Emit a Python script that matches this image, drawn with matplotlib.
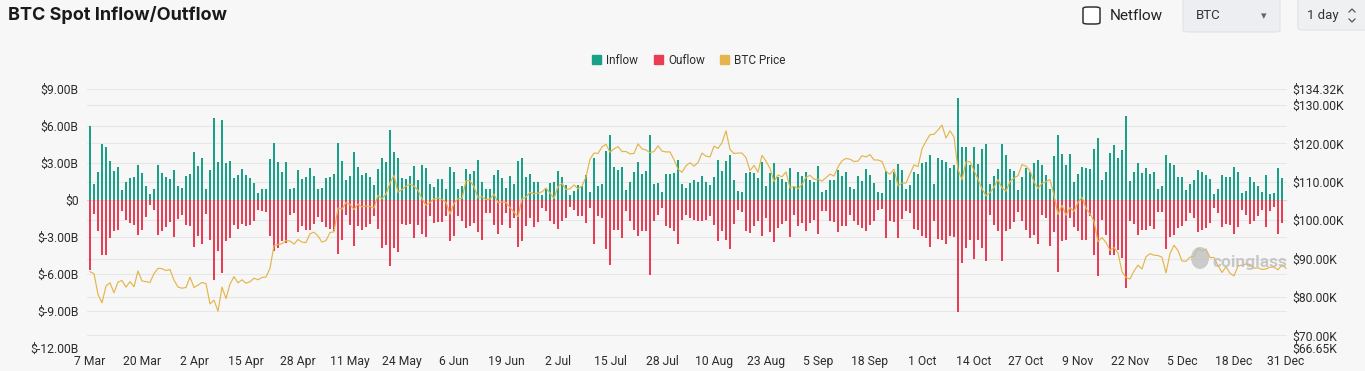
import numpy as np
import pandas as pd
import matplotlib
matplotlib.use("Agg")
import matplotlib.pyplot as plt
from matplotlib.patches import Patch, FancyBboxPatch, Ellipse
from matplotlib.lines import Line2D
from matplotlib.transforms import blended_transform_factory

# ---------------- data ----------------
start_date = "2025-03-07"
end_date = "2025-12-31"

inflow = [
    5.98, 1.29, 2.25, 4.48, 4.29, 3.14, 2.33, 2.65, 0.80, 1.42,
    1.74, 1.82, 2.79, 2.20, 1.13, 0.46, 0.86, 2.84, 2.14, 1.85,
    1.66, 2.39, 1.10, 0.94, 1.93, 2.06, 3.89, 2.73, 3.35, 0.86,
    2.44, 6.60, 3.03, 6.46, 3.00, 3.11, 1.74, 2.01, 2.52, 1.98,
    1.79, 1.34, 0.54, 0.86, 0.86, 3.32, 4.62, 3.03, 2.25, 3.03,
    0.86, 0.99, 2.44, 1.66, 1.85, 2.55, 1.93, 0.86, 0.99, 1.74,
    1.82, 2.09, 4.56, 3.11, 1.61, 1.96, 3.86, 2.65, 1.98, 2.14,
    1.85, 1.18, 2.47, 3.35, 3.08, 5.68, 3.89, 3.40, 1.74, 1.66,
    1.93, 2.73, 1.64, 2.79, 2.60, 1.26, 1.02, 1.69, 1.69, 0.86,
    2.65, 2.23, 0.86, 1.15, 2.52, 2.06, 2.33, 3.24, 1.42, 0.90,
    0.88, 2.00, 2.39, 1.80, 0.99, 1.93, 1.29, 3.11, 3.38, 1.85,
    2.12, 1.47, 1.47, 0.43, 0.94, 1.39, 1.42, 2.36, 1.82, 1.21,
    0.40, 0.72, 1.21, 1.15, 1.98, 0.62, 3.38, 1.13, 1.31, 3.97,
    5.23, 2.65, 2.41, 2.68, 0.83, 1.47, 2.28, 3.03, 2.06, 2.33,
    5.28, 1.29, 1.39, 0.62, 2.06, 2.06, 2.14, 3.22, 1.31, 0.94,
    1.39, 1.61, 1.42, 1.90, 1.47, 1.21, 1.85, 3.22, 2.33, 3.14,
    3.59, 1.61, 0.75, 0.67, 2.14, 2.28, 2.14, 1.74, 3.03, 1.15,
    2.20, 2.95, 1.82, 1.69, 1.42, 2.60, 1.15, 2.23, 1.90, 2.28,
    1.58, 1.47, 2.71, 0.67, 0.78, 1.64, 1.64, 2.39, 1.93, 2.23,
    1.05, 0.88, 1.96, 1.55, 2.47, 2.01, 1.34, 0.67, 0.54, 2.33,
    1.61, 2.23, 2.87, 2.39, 0.86, 1.21, 2.28, 2.12, 2.95, 3.03,
    3.62, 1.26, 3.35, 3.22, 3.08, 2.55, 2.82, 8.23, 4.29, 4.24,
    2.82, 4.29, 2.90, 4.08, 4.50, 1.31, 1.93, 2.47, 4.48, 3.62,
    2.47, 2.33, 0.80, 1.85, 2.55, 2.28, 2.95, 3.22, 2.82, 2.01,
    0.88, 3.54, 5.28, 3.73, 2.82, 3.67, 1.47, 2.06, 2.68, 2.60,
    2.49, 4.08, 4.96, 1.61, 2.28, 3.81, 4.42, 3.40, 4.02, 6.76,
    1.53, 2.28, 2.95, 2.20, 2.55, 2.06, 2.23, 0.86, 1.13, 3.62,
    2.98, 2.82, 1.82, 1.88, 0.80, 1.26, 1.61, 2.41, 2.23, 2.01,
    1.66, 0.48, 0.86, 2.01, 1.85, 1.85, 2.65, 2.23, 0.54, 0.75,
    1.88, 1.47, 1.13, 0.67, 2.01, 0.48, 0.56, 2.55, 1.80, np.nan,
]

outflow = [
    -5.68, -1.15, -2.55, -4.48, -4.42, -3.08, -2.49, -2.44, -0.94, -1.64,
    -1.88, -2.01, -2.82, -2.47, -1.39, -0.40, -0.83, -2.87, -2.49, -2.23,
    -1.82, -3.00, -1.53, -1.26, -2.06, -2.09, -3.83, -2.95, -3.57, -1.13,
    -3.22, -6.51, -4.16, -5.90, -3.30, -3.11, -2.01, -2.36, -1.96, -2.14,
    -2.01, -1.69, -0.80, -0.88, -1.02, -2.95, -4.16, -3.89, -3.30, -3.50,
    -1.21, -1.07, -2.63, -2.12, -2.47, -2.47, -1.96, -1.42, -1.80, -2.23,
    -2.39, -2.55, -4.37, -3.22, -1.26, -2.01, -3.75, -2.14, -2.44, -2.23,
    -1.96, -1.34, -2.33, -3.89, -3.62, -5.36, -3.89, -4.21, -1.96, -2.01,
    -1.96, -3.08, -2.01, -2.76, -3.03, -1.29, -1.90, -1.82, -1.82, -1.34,
    -3.35, -2.95, -1.34, -1.74, -2.28, -2.14, -1.88, -2.60, -3.22, -1.10,
    -1.07, -2.01, -2.76, -2.01, -1.07, -2.28, -1.47, -3.81, -3.35, -2.14,
    -1.47, -2.20, -1.80, -0.62, -0.88, -1.69, -1.96, -2.33, -1.74, -1.47,
    -0.54, -0.80, -1.34, -1.34, -1.88, -0.62, -3.57, -1.34, -1.47, -3.97,
    -5.28, -2.47, -2.47, -3.08, -0.94, -1.74, -2.47, -2.95, -2.49, -2.55,
    -6.08, -1.74, -1.26, -0.67, -2.14, -2.28, -2.49, -3.57, -1.61, -1.20,
    -1.47, -1.61, -1.74, -1.69, -1.61, -1.34, -2.01, -3.35, -2.55, -3.22,
    -3.97, -1.96, -0.80, -0.99, -2.55, -2.68, -2.14, -1.74, -2.95, -1.47,
    -2.60, -3.40, -2.28, -1.96, -1.74, -2.98, -1.21, -2.14, -1.88, -2.49,
    -1.88, -1.61, -2.76, -0.88, -0.88, -1.74, -1.80, -2.60, -2.14, -2.14,
    -1.21, -1.74, -2.01, -2.28, -2.55, -2.06, -1.74, -0.80, -0.72, -3.08,
    -1.74, -1.80, -3.08, -1.55, -0.88, -1.07, -2.36, -2.41, -2.95, -3.08,
    -3.81, -1.69, -3.14, -3.27, -3.57, -2.95, -3.03, -9.06, -5.09, -3.89,
    -3.22, -4.75, -3.22, -3.89, -4.91, -1.21, -2.00, -2.50, -4.96, -2.55,
    -2.33, -1.80, -1.00, -1.69, -2.41, -3.08, -2.82, -3.57, -1.20, -1.47,
    -3.75, -2.60, -5.82, -3.35, -3.22, -1.47, -2.20, -2.55, -3.22, -3.22,
    -1.34, -4.42, -6.14, -1.61, -2.87, -4.48, -4.48, -4.08, -4.69, -7.10,
    -1.69, -1.96, -2.82, -2.41, -2.47, -2.14, -2.33, -1.02, -0.99, -3.97,
    -3.03, -2.87, -2.28, -2.14, -1.74, -1.07, -1.47, -2.60, -2.41, -2.28,
    -1.88, -0.62, -1.07, -2.22, -1.96, -2.01, -2.73, -2.22, -0.80, -1.21,
    -1.96, -1.74, -1.34, -0.80, -2.20, -0.88, -0.59, -2.76, -1.88, np.nan,
]

btc_price = [
    86.6, 86.1, 80.7, 78.5, 82.9, 83.7, 81.1, 83.9, 84.3, 82.6,
    84.0, 82.7, 86.8, 84.2, 84.0, 83.8, 86.1, 87.5, 87.4, 86.9,
    87.2, 84.4, 82.6, 82.3, 82.5, 85.2, 82.5, 83.1, 83.8, 83.5,
    78.2, 79.2, 76.3, 82.6, 79.6, 83.4, 85.3, 83.7, 84.5, 83.6,
    84.0, 84.9, 84.5, 85.1, 85.2, 87.5, 93.4, 93.7, 93.9, 94.7,
    94.6, 93.8, 95.0, 94.3, 94.2, 96.5, 96.9, 95.9, 94.3, 94.7,
    96.8, 97.0, 103.2, 102.9, 104.6, 104.1, 102.8, 104.2, 103.5, 103.7,
    103.6, 103.2, 106.5, 105.6, 106.8, 109.7, 111.7, 107.3, 108.0, 108.9,
    109.4, 108.9, 107.8, 105.6, 103.9, 104.6, 105.6, 105.8, 105.4, 104.7,
    101.6, 104.4, 105.6, 105.7, 110.3, 110.3, 108.7, 105.9, 106.1, 105.4,
    105.5, 106.8, 104.6, 104.8, 104.6, 103.3, 102.1, 100.9, 105.6, 106.0,
    107.3, 106.9, 107.1, 107.4, 108.4, 107.1, 105.7, 108.8, 109.6, 108.0,
    108.2, 109.2, 108.2, 108.9, 111.3, 115.9, 117.5, 117.4, 119.1, 119.8,
    117.7, 118.6, 119.2, 117.9, 117.9, 117.3, 117.4, 119.9, 118.6, 118.3,
    117.6, 117.9, 119.4, 118.0, 117.8, 117.8, 115.8, 113.3, 112.5, 114.2,
    115.0, 114.1, 115.0, 117.5, 116.7, 116.5, 119.3, 118.7, 120.2, 123.3,
    118.4, 117.4, 117.5, 117.5, 116.3, 112.9, 114.3, 112.5, 116.9, 115.4,
    113.5, 110.1, 111.8, 111.3, 112.6, 108.4, 108.8, 108.2, 109.3, 111.2,
    111.7, 110.7, 110.7, 110.2, 111.1, 112.0, 111.5, 113.9, 115.5, 116.1,
    115.9, 115.3, 115.4, 116.8, 116.5, 117.1, 115.7, 115.7, 115.3, 112.7,
    112.0, 113.3, 109.0, 109.7, 109.7, 112.1, 114.4, 114.0, 118.6, 120.6,
    122.3, 122.4, 123.5, 124.8, 121.4, 123.3, 121.7, 113.2, 110.6, 115.2,
    115.3, 113.0, 110.7, 108.2, 106.4, 107.2, 108.6, 110.6, 108.4, 107.6,
    110.1, 111.0, 111.6, 114.5, 114.1, 112.9, 110.0, 108.3, 109.6, 110.1,
    110.6, 106.5, 101.5, 103.9, 101.3, 103.3, 102.3, 104.7, 106.0, 103.1,
    101.7, 99.7, 94.4, 95.5, 94.2, 92.2, 92.9, 91.5, 86.6, 85.1,
    84.7, 86.8, 88.3, 87.3, 90.5, 91.3, 90.9, 90.8, 90.4, 86.3,
    91.3, 93.5, 92.1, 89.4, 89.3, 90.4, 90.6, 92.7, 92.0, 92.5,
    90.3, 90.3, 88.2, 86.4, 87.9, 86.2, 85.5, 88.1, 88.3, 88.6,
    88.5, 87.5, 87.6, 87.2, 87.3, 87.8, 87.8, 87.1, 88.4, 87.5,
]

left_ticks = [-12, -9, -6, -3, 0, 3, 6, 9]
right_ticks = [66.65, 70, 80, 90, 100, 110, 120, 130, 134.32]
legend_labels = ["Inflow", "Ouflow", "BTC Price"]

# ---------------- style ----------------
BG = "#f7f7f7"
C_IN = "#18a186"
C_OUT = "#e93d56"
C_PRICE = "#e4b54c"
GRID = "#e7e7e7"
TXT = "#2b2b2b"
FONT = ["Roboto", "DejaVu Sans"]

plt.rcParams["font.family"] = FONT

W, H = 1365, 371
fig = plt.figure(figsize=(W / 100, H / 100), dpi=100, facecolor=BG)

dates = pd.date_range(start_date, end_date, freq="D")
x = np.arange(len(dates))

ax = fig.add_axes([86.8 / W, (H - 348.3) / H, 1200.4 / W, 259.8 / H])
ax.set_facecolor(BG)
ax2 = ax.twinx()

ax.bar(x, inflow, width=0.72, color=C_IN, zorder=3, linewidth=0)
ax.bar(x, outflow, width=0.72, color=C_OUT, zorder=3, linewidth=0)
ax2.plot(x, btc_price, color=C_PRICE, lw=0.85, zorder=4, solid_joinstyle="round")

ax.set_xlim(-0.8, len(x) - 0.7)
ax.set_ylim(-12, 9)
ax2.set_ylim(66.65, 134.32)

ax.set_yticks(left_ticks)
ax.set_yticklabels(["$0" if v == 0 else f"${v:.2f}B" for v in left_ticks])
ax2.set_yticks(right_ticks)
ax2.set_yticklabels([f"${v:.2f}K" for v in right_ticks])

tick_pos = list(range(0, len(x), 13))
ax.set_xticks(tick_pos)
ax.set_xticklabels([f"{dates[i].day} {dates[i].strftime('%b')}" for i in tick_pos])

for a in (ax, ax2):
    for s in a.spines.values():
        s.set_visible(False)
    a.tick_params(length=0, labelsize=8.7, colors=TXT)
ax.tick_params(axis="y", pad=6)
ax2.tick_params(axis="y", pad=4)
ax.tick_params(axis="x", pad=5)

# gridlines for both axes (drawn behind the bars)
ax.set_axisbelow(True)
for v in left_ticks:
    ax.axhline(v, color=GRID, lw=0.8, zorder=0)
tr = blended_transform_factory(ax.transAxes, ax2.transData)
for v in right_ticks:
    ax.add_line(Line2D([0, 1], [v, v], transform=tr, color=GRID, lw=0.8, zorder=0))
ax.axhline(0, color="#d6d6d6", lw=0.8, zorder=2)

# legend
handles = [Patch(color=c) for c in (C_IN, C_OUT, C_PRICE)]
fig.legend(handles, legend_labels, loc="center", bbox_to_anchor=(689 / W, 1 - 60 / H),
           ncol=3, frameon=False, fontsize=8.5, handlelength=0.75, handleheight=0.75,
           handletextpad=0.45, columnspacing=1.3, labelcolor=TXT)

# title
fig.text(8 / W, 1 - 15 / H, "BTC Spot Inflow/Outflow", fontsize=13, fontweight="bold",
         color="#1a1a1a", va="center", ha="left", family=["Inter", "DejaVu Sans"])

# controls at top right
def px(xp, yp):
    return xp / W, 1 - yp / H

cb = FancyBboxPatch(px(1083, 24), 17 / W, 17 / H, boxstyle="round,pad=0,rounding_size=0.004",
                    transform=fig.transFigure, facecolor="white", edgecolor="#333333", lw=1.1)
fig.patches.append(cb)
fig.text(*px(1110, 15.5), "Netflow", fontsize=11, color="#222222", va="center", ha="left")

dd = FancyBboxPatch(px(1183, 32), 97 / W, 34 / H, boxstyle="round,pad=0,rounding_size=0.004",
                    transform=fig.transFigure, facecolor="#eceef1", edgecolor="#e0e3e7", lw=0.8)
fig.patches.append(dd)
fig.text(*px(1196, 15.5), "BTC", fontsize=9.5, color="#333333", va="center", ha="left")
fig.text(*px(1264, 16), "\u25be", fontsize=8, color="#666666", va="center", ha="center",
         family="DejaVu Sans")

dd2 = FancyBboxPatch(px(1298, 30), 80 / W, 32 / H, boxstyle="round,pad=0,rounding_size=0.004",
                     transform=fig.transFigure, facecolor="#eff0f2", edgecolor="#e0e3e7", lw=0.8)
fig.patches.append(dd2)
fig.text(*px(1307, 15.5), "1 day", fontsize=9.5, color="#333333", va="center", ha="left")
for pts in ([(1349, 12), (1352, 9), (1355, 12)], [(1349, 19), (1352, 22), (1355, 19)]):
    xs, ys = zip(*[px(a, b) for a, b in pts])
    fig.lines.append(Line2D(xs, ys, transform=fig.transFigure, color="#555555", lw=0.9))

# watermark
fig.patches.append(Ellipse(px(1200, 258), 18 / W, 22 / H, transform=fig.transFigure,
                           facecolor="#bdbdbd", edgecolor="none", alpha=0.75))
fig.text(*px(1250, 262), "coinglass", fontsize=12.5, fontweight="bold", color="#bcbcbc",
         alpha=0.8, va="center", ha="center")

fig.savefig("out.png", dpi=100, facecolor=BG)
